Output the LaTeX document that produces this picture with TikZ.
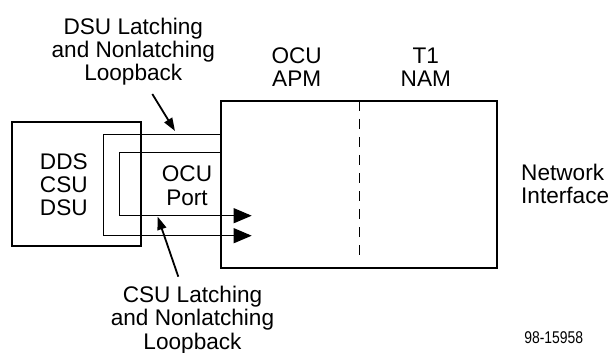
\documentclass[tikz,border=0pt]{standalone}
\usepackage{fontspec}
\usepackage{tikz}
\usetikzlibrary{arrows.meta}
\setmainfont{Liberation Sans}
\newfontfamily\narrowfont[FakeStretch=0.82]{Liberation Sans}

\begin{document}
\begin{tikzpicture}[x=1pt,y=-1pt,
  lbl/.style={inner sep=0pt,align=center,anchor=base,font=\fontsize{22.6}{23.3}\selectfont},
  loopline/.style={line width=1pt,-{Triangle[length=18pt,width=15pt]}},
  callout/.style={line width=1.8pt,-{Triangle[length=13pt,width=9pt]}}]
\useasboundingbox (0,0) rectangle (614,353);
\draw[line width=2pt] (12,122) rectangle (141,246);
\draw[line width=2pt] (220.7,101) rectangle (496.7,267.7);
\draw[line width=1pt,dash pattern=on 10pt off 8pt] (359.3,101) -- (359.3,262);
\draw[loopline] (220.7,134.3) -- (103.7,134.3) -- (103.7,235.7) -- (251.7,235.7);
\draw[loopline] (220.7,152.7) -- (119.3,152.7) -- (119.3,215.7) -- (251.7,215.7);
\node[lbl] (dsulbl) at (133.3,81) {DSU Latching\\and Nonlatching\\Loopback};
\node[lbl] (csulbl) at (192.5,349) {CSU Latching\\and Nonlatching\\Loopback};
\node[lbl] (apm) at (296.7,86.7) {OCU\\APM};
\node[lbl] (nam) at (425.8,86.7) {T1\\NAM};
\node[lbl] (dds) at (63.8,215.7) {DDS\\CSU\\DSU};
\node[lbl] (port) at (187,205) {OCU\\Port};
\node[lbl,align=left,anchor=base west] (netif) at (521,204) {Network\\Interface};
\node[inner sep=0pt,anchor=base,font=\narrowfont\fontsize{17}{20}\selectfont] (figno) at (553.8,343.3) {98-15958};
\coordinate (dsufrom) at (152.3,94);
\coordinate (dsuto) at (175,131);
\coordinate (csufrom) at (178.3,276.7);
\coordinate (csuto) at (157.7,216.7);
\draw[callout] (dsufrom) -- (dsuto);
\draw[callout] (csufrom) -- (csuto);
\end{tikzpicture}
\end{document}
